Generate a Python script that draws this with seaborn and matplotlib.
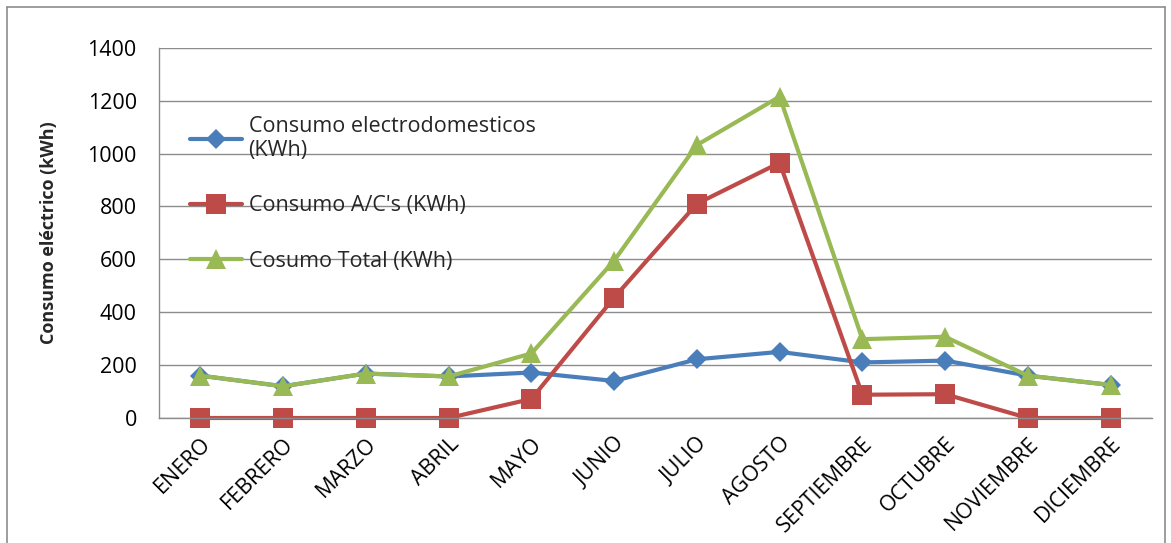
import pandas as pd
import matplotlib.pyplot as plt
import seaborn as sns
from matplotlib.lines import Line2D

# Datos
meses = ['ENERO', 'FEBRERO', 'MARZO', 'ABRIL', 'MAYO', 'JUNIO', 'JULIO',
         'AGOSTO', 'SEPTIEMBRE', 'OCTUBRE', 'NOVIEMBRE', 'DICIEMBRE']
electrodomesticos = [160, 120, 168, 157, 172, 140, 222, 250, 210, 217, 160, 125]
aire_acondicionado = [0, 0, 0, 0, 72, 455, 810, 965, 88, 90, 0, 0]
total = [160, 120, 168, 157, 244, 595, 1032, 1215, 298, 307, 160, 125]

etiquetas = ['Consumo electrodomesticos\n(KWh)', "Consumo A/C's (KWh)", 'Cosumo Total (KWh)']
colores = ['#4A7EBB', '#BE4B48', '#98B954']
marcadores = ['D', 's', '^']
tamanos = [10, 14, 15]

df = pd.DataFrame({'mes': meses,
                   etiquetas[0]: electrodomesticos,
                   etiquetas[1]: aire_acondicionado,
                   etiquetas[2]: total})

sns.set_style('white')
plt.rcParams['font.family'] = ['Open Sans', 'DejaVu Sans']

fig = plt.figure(figsize=(11.71, 5.43), dpi=100)
ax = fig.add_axes([159 / 1171, 1 - 418 / 543, 993 / 1171, (418 - 47.7) / 543])

for etiqueta, color, marcador, tam in zip(etiquetas, colores, marcadores, tamanos):
    sns.lineplot(data=df, x='mes', y=etiqueta, ax=ax, color=color, linewidth=3,
                 marker=marcador, markersize=tam, markeredgewidth=0, label=etiqueta,
                 sort=False, clip_on=False)

ax.set_xlim(-0.5, 11.5)
ax.set_ylim(0, 1400)
ax.set_yticks(range(0, 1401, 200))
ax.yaxis.grid(True, color='#8C8C8C', linewidth=1)
ax.set_axisbelow(True)
for lado in ['top', 'right']:
    ax.spines[lado].set_visible(False)
for lado in ['left', 'bottom']:
    ax.spines[lado].set_color('#8C8C8C')
    ax.spines[lado].set_linewidth(1)

ax.tick_params(axis='both', length=0, labelsize=15.5, colors='black')
ax.tick_params(axis='y', pad=16)
ax.tick_params(axis='x', pad=11)
plt.setp(ax.get_xticklabels(), rotation=45, ha='right', rotation_mode='anchor')

ax.set_xlabel('')
ax.set_ylabel('Consumo eléctrico (kWh)', fontsize=13, fontweight='bold')
ax.yaxis.set_label_coords(-0.102, 0.5)

# Leyenda
handles = [Line2D([], [], color=c, linewidth=3, marker=m, markersize=t, markeredgewidth=0)
           for c, m, t in zip(colores, marcadores, tamanos)]
ax.legend(handles, etiquetas, loc='upper left', bbox_to_anchor=(0.023, 0.84),
          frameon=False, fontsize=15.5, handlelength=2.4, handletextpad=0.3,
          labelspacing=1.6, borderaxespad=0)

# Marco exterior
borde = dict(color='#8C8C8C', linewidth=1.2, transform=fig.transFigure)
fig.add_artist(Line2D([7 / 1171, 7 / 1171], [0, 1 - 7 / 543], **borde))
fig.add_artist(Line2D([7 / 1171, 1165 / 1171], [1 - 7 / 543, 1 - 7 / 543], **borde))
fig.add_artist(Line2D([1165 / 1171, 1165 / 1171], [0, 1 - 7 / 543], **borde))

fig.savefig('out.png', dpi=100)
